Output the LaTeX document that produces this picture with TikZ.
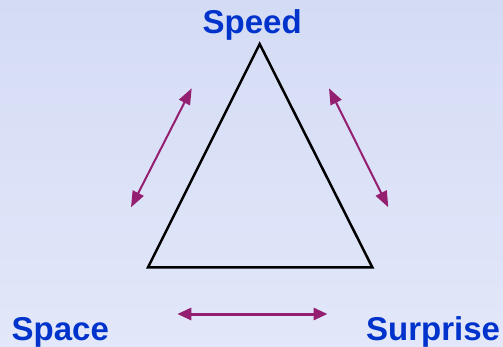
\documentclass[tikz,border=0pt]{standalone}
\usepackage{fontspec}
\setmainfont{Liberation Sans}
\usetikzlibrary{arrows.meta}
\definecolor{lbltext}{RGB}{0,51,204}
\definecolor{arrcol}{RGB}{148,30,112}
\definecolor{bgtop}{RGB}{212,220,245}
\definecolor{bgbot}{RGB}{226,231,249}
\tikzset{
  lbl/.style={anchor=base west, inner sep=0pt, text=lbltext, font=\fontsize{33}{33}\selectfont\bfseries},
  twoway/.style={arrcol, line width=2pt, {Triangle[length=16pt,width=12pt]}-{Triangle[length=16pt,width=12pt]}},
  twowaybold/.style={arrcol, line width=3pt, {Triangle[length=14pt,width=12pt]}-{Triangle[length=14pt,width=12pt]}},
  tri/.style={black, line width=2.5pt, line join=miter}
}
\begin{document}
\begin{tikzpicture}[x=1pt,y=-1pt]
\shade[top color=bgtop, bottom color=bgbot] (0,0) rectangle (503,346);
\useasboundingbox (0,0) rectangle (503,346);
\coordinate (top) at (259.7,44);
\coordinate (bl) at (148,267.3);
\coordinate (br) at (372.3,267.3);
\draw[tri] (top) -- (bl) -- (br) -- cycle;
\node[lbl] (speed) at (202.5,33) {Speed};
\node[lbl] (space) at (11.5,340) {Space};
\node[lbl] (surprise) at (366,340) {Surprise};
\coordinate (la) at (191.7,88.3);
\coordinate (lb) at (131,207.3);
\coordinate (ra) at (329,88.3);
\coordinate (rb) at (388.3,207.3);
\coordinate (ba) at (177.3,314);
\coordinate (bb) at (327.5,314);
\draw[twoway] (la) -- (lb);
\draw[twoway] (ra) -- (rb);
\draw[twowaybold] (ba) -- (bb);
\end{tikzpicture}
\end{document}
